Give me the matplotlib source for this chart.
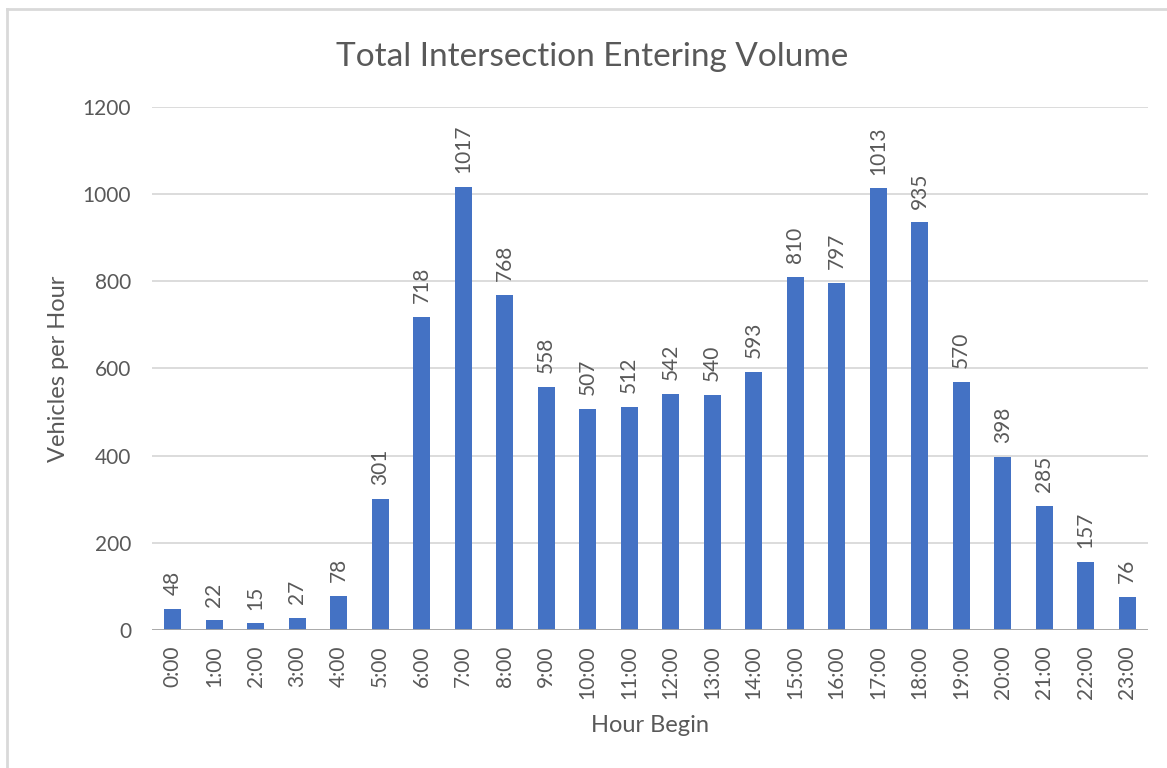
import numpy as np
import matplotlib
matplotlib.use("Agg")
import matplotlib.pyplot as plt
from matplotlib.lines import Line2D

plt.rcParams['font.family'] = ['Lato', 'DejaVu Sans']

hours = ["0:00", "1:00", "2:00", "3:00", "4:00", "5:00", "6:00", "7:00",
         "8:00", "9:00", "10:00", "11:00", "12:00", "13:00", "14:00", "15:00",
         "16:00", "17:00", "18:00", "19:00", "20:00", "21:00", "22:00", "23:00"]
volume = [48, 22, 15, 27, 78, 301, 718, 1017, 768, 558, 507, 512,
          542, 540, 593, 810, 797, 1013, 935, 570, 398, 285, 157, 76]
y_ticks = [0, 200, 400, 600, 800, 1000, 1200]

text_col = '#595959'
bar_col = '#4472C4'

fig = plt.figure(figsize=(11.67, 7.68), dpi=100)
ax = fig.add_axes([0.1302, 0.1797, 0.8535, 0.681])

x = np.arange(len(hours))
bars = ax.bar(x, volume, width=0.41, color=bar_col, zorder=3)

for xi, v in zip(x, volume):
    ax.annotate(str(v), (xi, v), xytext=(0, 10), textcoords='offset points',
                rotation=90, ha='center', va='bottom', fontsize=15, color=text_col)

ax.set_xlim(-0.5, len(hours) - 0.5)
ax.set_ylim(0, 1200)
ax.set_yticks(y_ticks)
ax.set_xticks(x)
ax.set_xticklabels(hours, rotation=90, fontsize=15, color=text_col)
ax.tick_params(axis='y', labelsize=15, labelcolor=text_col, length=0, pad=15)
ax.tick_params(axis='x', length=0, pad=11)
ax.grid(axis='y', color='#d9d9d9', linewidth=1.3, zorder=0)
ax.axhline(0, color='#a6a6a6', linewidth=2, zorder=4)
for s in ax.spines.values():
    s.set_visible(False)

ax.set_xlabel("Hour Begin", fontsize=17, color=text_col)
ax.set_ylabel("Vehicles per Hour", fontsize=17, color=text_col)
ax.xaxis.set_label_coords(0.5, -0.162)
ax.yaxis.set_label_coords(-0.083, 0.5)
fig.text(0.507, 1 - 66 / 768, "Total Intersection Entering Volume", ha='center',
         va='baseline', fontsize=24, color=text_col)

# chart frame, left and top edges
fig.add_artist(Line2D([7 / 1167, 7 / 1167], [0, 1 - 9 / 768], transform=fig.transFigure,
                      color='#d9d9d9', linewidth=2))
fig.add_artist(Line2D([7 / 1167, 1], [1 - 9 / 768, 1 - 9 / 768], transform=fig.transFigure,
                      color='#d9d9d9', linewidth=2))

fig.savefig("out.png", dpi=100)
